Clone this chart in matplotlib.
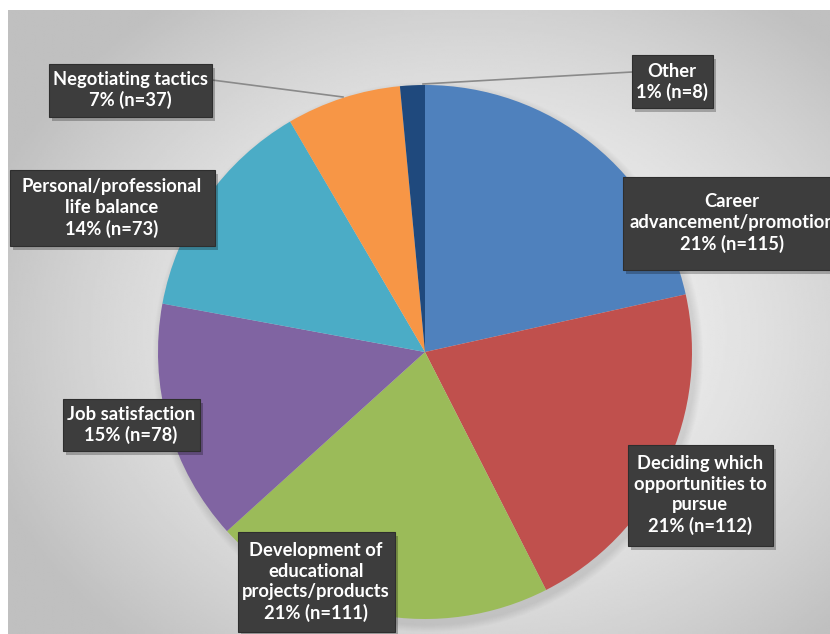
import numpy as np
import matplotlib
matplotlib.use("Agg")
import matplotlib.pyplot as plt
from matplotlib.patches import Rectangle

# slice data, clockwise from 12 o'clock
categories = ["Career\nadvancement/promotion", "Deciding which\nopportunities to\npursue",
              "Development of\neducational\nprojects/products", "Job satisfaction",
              "Personal/professional\nlife balance", "Negotiating tactics", "Other"]
counts = [115, 112, 111, 78, 73, 37, 8]
percents = [21, 21, 21, 15, 14, 7, 1]
colors = ["#4F81BD", "#C0504D", "#9BBB59", "#8064A2", "#4BACC6", "#F79646", "#1F497D"]

W, H = 830, 634

fig = plt.figure(figsize=(W / 100, H / 100), dpi=100)
ax = fig.add_axes([0, 0, 1, 1])

# grey radial-gradient panel
gx, gy = np.meshgrid(np.linspace(8, W, 400), np.linspace(0, H - 10, 300))
d = np.sqrt(((gx - 470) / 520) ** 2 + ((gy - 300) / 420) ** 2)
shade = np.clip(0.965 - 0.22 * d ** 1.6, 0.75, 0.97)
ax.imshow(shade, cmap="gray", vmin=0, vmax=1, origin="lower",
          extent=[8, W, 0, H - 10], zorder=0, interpolation="bilinear")

# pie (pixel coordinates, y up)
cx, cy, r = 425, H - 352, 267
# soft shadow under the pie
for k in range(8):
    ax.add_patch(plt.Circle((cx + 3, cy - 5), r + 8 - k, color="#707070",
                            alpha=0.025, lw=0, zorder=1))
wedges, _ = ax.pie(counts, colors=colors, startangle=90, counterclock=False,
                   center=(cx, cy), radius=r, wedgeprops=dict(linewidth=0))
for w in wedges:
    w.set_zorder(2)

ax.set_xlim(0, W)
ax.set_ylim(0, H)
ax.set_aspect("equal")
ax.axis("off")

# label boxes: (left, top, right, bottom) in pixels from top-left, text centre
boxes = [
    (623, 177, 841, 270, 732, 223),
    (628, 445, 773, 546, 700, 495),
    (238, 532, 395, 632, 316, 582),
    (63, 399, 200, 451, 131, 425),
    (10, 170, 215, 246, 112, 208),
    (49, 64, 212, 117, 130, 90),
    (632, 55, 713, 108, 672, 82),
]

# leader lines for the two small slices
ax.plot([212, 343], [H - 80, H - 97], color="#8a8a8a", lw=1.2, zorder=3)
ax.plot([632, 423], [H - 72, H - 84], color="#8a8a8a", lw=1.2, zorder=3)

for (l, t, rr, b, tx, ty), cat, n, p in zip(boxes, categories, counts, percents):
    ax.add_patch(Rectangle((l + 3, H - b - 4), rr - l, b - t, color="#000000",
                           alpha=0.25, lw=0, zorder=4))
    ax.add_patch(Rectangle((l, H - b), rr - l, b - t, facecolor="#3d3d3d",
                           edgecolor="#2e2e2e", lw=0.8, zorder=5))
    ax.text(tx, H - ty, f"{cat}\n{p}% (n={n})", ha="center", va="center",
            color="white", fontsize=13.2, fontweight="bold", family="Lato",
            linespacing=1.25, zorder=6)

fig.savefig("out.png", dpi=100, facecolor="white")
